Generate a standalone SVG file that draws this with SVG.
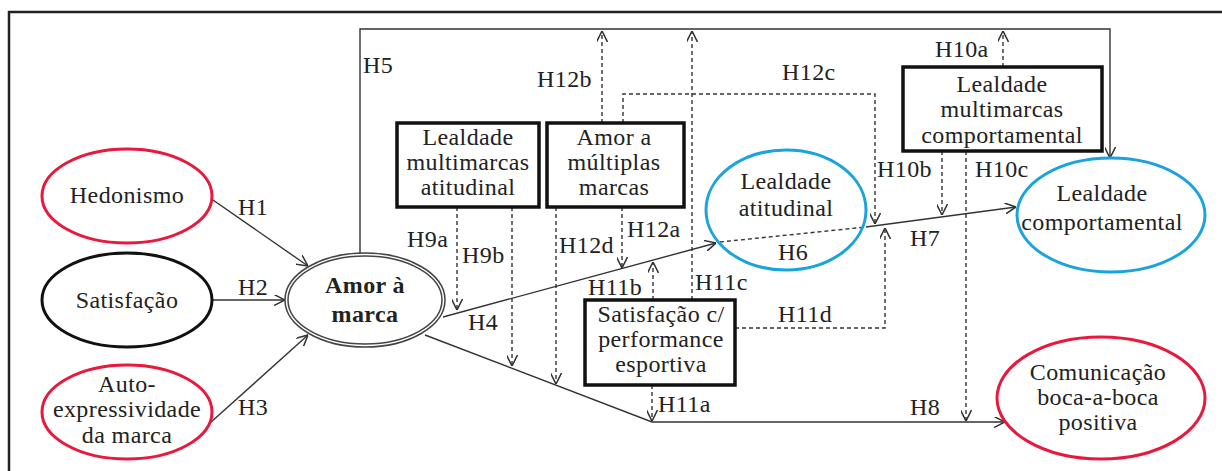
<svg xmlns="http://www.w3.org/2000/svg" width="1222" height="471" viewBox="0 0 1222 471">
<defs>
<style>
text{font-family:"Liberation Serif","Times New Roman",serif;font-size:24px;fill:#222;letter-spacing:0.4px}
.c{text-anchor:middle}
.b{font-weight:bold}
.red{fill:none;stroke:#e8193c;stroke-width:3}
.blue{fill:none;stroke:#1aa3dc;stroke-width:3}
.blk{fill:none;stroke:#111;stroke-width:3}
.box{fill:#fff;stroke:#111;stroke-width:3.5}
.ln{fill:none;stroke:#333;stroke-width:1.4}
.ds{fill:none;stroke:#333;stroke-width:1.4;stroke-dasharray:4 3}
.frame{fill:none;stroke:#222;stroke-width:2.5}
</style>
<marker id="ar" viewBox="0 0 10 10" refX="10" refY="5" markerWidth="11" markerHeight="11" markerUnits="userSpaceOnUse" orient="auto">
<path d="M0,0 L10,5 L0,10" fill="none" stroke="#333" stroke-width="1.4"/>
</marker>
</defs>
<rect width="1222" height="471" fill="#fff"/>
<path class="frame" d="M9,471 L9,12 L1222,12"/>

<g id="connectors">
<path class="ln" d="M213,200 L308,266" marker-end="url(#ar)"/>
<path class="ln" d="M212,300 L285,300" marker-end="url(#ar)"/>
<path class="ln" d="M210,423 L308,335" marker-end="url(#ar)"/>
<path class="ln" d="M360,253 L360,29 L1110,29 L1110,158" marker-end="url(#ar)"/>
<path class="ln" d="M443,317 L716,243" marker-end="url(#ar)"/>
<path class="ds" d="M720,242 L866,227"/>
<path class="ln" d="M866,227 L1016,207" marker-end="url(#ar)"/>
<path class="ln" d="M425,335 L652,422 L1005,422" marker-end="url(#ar)"/>
<path class="ds" d="M457,207 L457,310" marker-end="url(#ar)"/>
<path class="ds" d="M512,207 L512,366" marker-end="url(#ar)"/>
<path class="ds" d="M556,207 L556,384" marker-end="url(#ar)"/>
<path class="ds" d="M622,207 L622,268" marker-end="url(#ar)"/>
<path class="ds" d="M602,123 L602,31" marker-end="url(#ar)"/>
<path class="ds" d="M623,123 L623,94 L875,94 L875,224" marker-end="url(#ar)"/>
<path class="ds" d="M692,300 L692,31" marker-end="url(#ar)"/>
<path class="ds" d="M653,300 L653,262" marker-end="url(#ar)"/>
<path class="ds" d="M735,328 L885,328 L885,228" marker-end="url(#ar)"/>
<path class="ds" d="M652,385 L652,421" marker-end="url(#ar)"/>
<path class="ds" d="M1003,67 L1003,31" marker-end="url(#ar)"/>
<path class="ds" d="M942,151 L942,215" marker-end="url(#ar)"/>
<path class="ds" d="M966,151 L966,421" marker-end="url(#ar)"/>
<text x="238" y="215">H1</text>
<text x="238" y="295">H2</text>
<text x="238" y="415">H3</text>
<text x="363" y="73">H5</text>
<text x="468" y="330">H4</text>
<text x="778" y="260">H6</text>
<text x="910" y="246">H7</text>
<text x="910" y="415">H8</text>
<text x="407" y="247">H9a</text>
<text x="462" y="263">H9b</text>
<text x="559" y="253">H12d</text>
<text x="627" y="237">H12a</text>
<text x="537" y="87">H12b</text>
<text x="782" y="80">H12c</text>
<text x="588" y="295">H11b</text>
<text x="695" y="290">H11c</text>
<text x="778" y="322">H11d</text>
<text x="658" y="412">H11a</text>
<text x="935" y="57">H10a</text>
<text x="877" y="177">H10b</text>
<text x="975" y="177">H10c</text>
</g>

<g id="hedonismo">
<ellipse class="red" cx="127" cy="196" rx="85" ry="47"/>
<text class="c" x="127" y="203">Hedonismo</text>
</g>
<g id="satisfacao">
<ellipse class="blk" cx="127" cy="300" rx="85" ry="47"/>
<text class="c" x="127" y="308">Satisfação</text>
</g>
<g id="autoexpressividade">
<ellipse class="red" cx="127" cy="412" rx="85" ry="47"/>
<text class="c" x="127" y="392">Auto-</text>
<text class="c" x="127" y="417">expressividade</text>
<text class="c" x="127" y="443">da marca</text>
</g>
<g id="amor">
<ellipse cx="365" cy="300" rx="80" ry="47" fill="#fff" stroke="#444" stroke-width="1.5"/>
<ellipse cx="365" cy="300" rx="77" ry="44" fill="none" stroke="#444" stroke-width="1.5"/>
<text class="c b" x="365" y="293">Amor à</text>
<text class="c b" x="365" y="322">marca</text>
</g>
<g id="lma">
<rect class="box" x="397" y="123" width="142" height="84"/>
<text class="c" x="468" y="145">Lealdade</text>
<text class="c" x="468" y="170">multimarcas</text>
<text class="c" x="468" y="195">atitudinal</text>
</g>
<g id="amm">
<rect class="box" x="547" y="123" width="137" height="84"/>
<text class="c" x="614" y="145">Amor a</text>
<text class="c" x="614" y="170">múltiplas</text>
<text class="c" x="614" y="195">marcas</text>
</g>
<g id="lmc">
<rect class="box" x="903" y="67" width="199" height="84"/>
<text class="c" x="1002" y="92">Lealdade</text>
<text class="c" x="1002" y="117">multimarcas</text>
<text class="c" x="1002" y="143">comportamental</text>
</g>
<g id="satperf">
<rect class="box" x="585" y="300" width="150" height="85"/>
<text class="c" x="661" y="322">Satisfação c/</text>
<text class="c" x="661" y="347">performance</text>
<text class="c" x="661" y="372">esportiva</text>
</g>
<g id="latit">
<ellipse class="blue" cx="786" cy="210" rx="80" ry="60"/>
<text class="c" x="786" y="189">Lealdade</text>
<text class="c" x="786" y="216">atitudinal</text>
</g>
<g id="lcomp">
<ellipse class="blue" cx="1111" cy="215" rx="94" ry="57"/>
<text class="c" x="1102" y="201">Lealdade</text>
<text class="c" x="1102" y="230">comportamental</text>
</g>
<g id="comunicacao">
<ellipse class="red" cx="1101" cy="398" rx="104" ry="61"/>
<text class="c" x="1098" y="380">Comunicação</text>
<text class="c" x="1098" y="405">boca-a-boca</text>
<text class="c" x="1098" y="430">positiva</text>
</g>
</svg>
